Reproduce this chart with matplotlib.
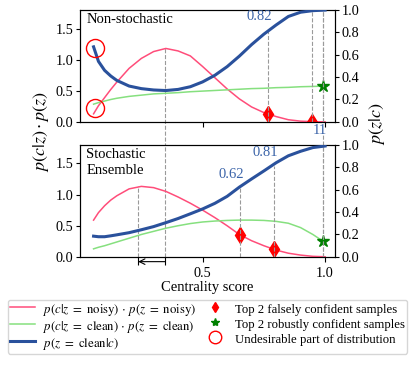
import matplotlib
matplotlib.use('Agg')
import matplotlib.pyplot as plt
from matplotlib.lines import Line2D

plt.rcParams['font.family'] = ['Liberation Serif', 'DejaVu Serif']
plt.rcParams['mathtext.fontset'] = 'stix'
plt.rcParams['font.size'] = 10

# ---------------- data ----------------
centrality = [0.055, 0.075, 0.10, 0.125, 0.15, 0.20, 0.25, 0.30, 0.35, 0.40, 0.45, 0.50,
              0.55, 0.60, 0.65, 0.70, 0.75, 0.80, 0.85, 0.90, 0.95, 1.00]

# Non-stochastic
top_noisy = [0.13, 0.26, 0.39, 0.52, 0.64, 0.86, 1.02, 1.13, 1.18, 1.14, 1.06, 0.89,
             0.71, 0.53, 0.37, 0.24, 0.15, 0.086, 0.035, 0.012, 0.004, 0.001]
top_clean = [0.285, 0.31, 0.335, 0.36, 0.38, 0.41, 0.43, 0.45, 0.46, 0.47, 0.485, 0.495,
             0.505, 0.515, 0.525, 0.535, 0.54, 0.55, 0.555, 0.565, 0.57, 0.575]
top_post = [0.67, 0.54, 0.46, 0.41, 0.37, 0.32, 0.297, 0.285, 0.28, 0.29, 0.314, 0.357,
            0.416, 0.493, 0.587, 0.69, 0.783, 0.865, 0.941, 0.979, 0.993, 0.998]

# Stochastic ensemble
bot_noisy = [0.59, 0.71, 0.82, 0.91, 0.98, 1.09, 1.13, 1.11, 1.05, 0.96, 0.86, 0.75,
             0.63, 0.50, 0.36, 0.26, 0.18, 0.11, 0.06, 0.03, 0.01, 0.003]
bot_clean = [0.13, 0.155, 0.18, 0.21, 0.24, 0.30, 0.36, 0.41, 0.46, 0.50, 0.535, 0.56,
             0.575, 0.585, 0.59, 0.59, 0.585, 0.57, 0.54, 0.47, 0.36, 0.23]
bot_post = [0.185, 0.18, 0.18, 0.188, 0.197, 0.216, 0.242, 0.27, 0.305, 0.342, 0.384, 0.427,
            0.477, 0.539, 0.621, 0.694, 0.765, 0.838, 0.90, 0.94, 0.973, 0.987]

# highlighted samples
top_false_x = [0.767, 0.946]
top_false_y = [0.124, 0.0]
top_false_post = [0.82, 1.0]
top_false_labels = ['0.82', '']
top_robust_x = [0.993]
top_robust_y = [0.575]
top_robust_post = [1.0]

bot_false_x = [0.652, 0.793]
bot_false_y = [0.35, 0.12]
bot_false_post = [0.62, 0.81]
bot_false_labels = ['0.62', '0.81']
bot_robust_x = [0.99]
bot_robust_y = [0.256]
bot_robust_post = [1.0]
bot_robust_labels = ['11']

top_peak_x = [0.346]
top_peak_y = [1.18]
bot_peak_x = [0.237]
bot_peak_y = [1.13]

circle_x = [0.06]
circle_post_y = [0.663]
circle_left_y = [0.23]

# ---------------- style ----------------
PINK = '#ff4d7a'
GREEN = '#86e07f'
BLUE = '#2a519c'
LBLUE = '#3a63a8'
DASH = '#9a9a9a'

fig = plt.figure(figsize=(4.15, 3.65), dpi=100)
ax1 = fig.add_axes([0.193, 0.666, 0.614, 0.307])
ax2 = fig.add_axes([0.193, 0.296, 0.614, 0.308])

panels = [
    (ax1, top_noisy, top_clean, top_post, top_false_x, top_false_y, top_false_post,
     top_false_labels, top_robust_x, top_robust_y, top_robust_post, 'Non-stochastic'),
    (ax2, bot_noisy, bot_clean, bot_post, bot_false_x, bot_false_y, bot_false_post,
     bot_false_labels, bot_robust_x, bot_robust_y, bot_robust_post, 'Stochastic\nEnsemble'),
]

twins = []
for (ax, noisy, clean, post, fx, fy, fp, fl, rx, ry, rp, title) in panels:
    ax.plot(centrality, noisy, color=PINK, lw=1.1, zorder=3)
    ax.plot(centrality, clean, color=GREEN, lw=1.1, zorder=3)
    ax.set_xlim(0.0, 1.04)
    ax.set_ylim(0, 1.8)
    ax.set_yticks([0.0, 0.5, 1.0, 1.5])
    ax.set_xticks([0.5, 1.0])
    ax.tick_params(labelsize=10.3)
    ax.tick_params(axis='y', length=3, pad=1.8)
    axr = ax.twinx()
    axr.plot(centrality, post, color=BLUE, lw=2.2, zorder=3)
    axr.set_ylim(0, 1)
    axr.set_yticks([0.0, 0.2, 0.4, 0.6, 0.8, 1.0])
    axr.tick_params(labelsize=10.3, length=3, pad=1.8)
    axr.vlines(fx, 0, fp, colors=DASH, linestyles='--', lw=0.8, zorder=1)
    axr.vlines(rx, 0, rp, colors=DASH, linestyles='--', lw=0.8, zorder=1)
    ax.plot(fx, fy, ls='none', marker='d', color='red', ms=8.5, zorder=5)
    ax.plot(rx, ry, ls='none', marker='*', color='green', ms=9, zorder=5)
    for xv, pv, lab in zip(fx, fp, fl):
        if lab:
            axr.text(xv + 0.016, pv + 0.06, lab, ha='right', va='bottom',
                     color=LBLUE, fontsize=10.5)
    ax.text(0.025, 0.97, title, transform=ax.transAxes, ha='left', va='top',
            fontsize=10.5, linespacing=1.3)
    twins.append(axr)

ax1r, ax2r = twins
ax1.set_xticklabels([])

# vertical guides at the noisy peaks
ax1.vlines(top_peak_x, -0.4, top_peak_y, colors=DASH, linestyles='--', lw=0.8,
           zorder=1, clip_on=False)
ax2.vlines(top_peak_x, 0, 1.8, colors=DASH, linestyles='--', lw=0.8, zorder=1)
ax2.vlines(bot_peak_x, 0, bot_peak_y, colors=DASH, linestyles='--', lw=0.8, zorder=1)
ax2r.vlines(bot_robust_x, 0, 1.1, colors=DASH, linestyles='--', lw=0.8, zorder=1,
            clip_on=False)
ax1r.vlines(top_robust_x, 0, 1.0, colors=DASH, linestyles='--', lw=0.8, zorder=1)

# labels of robust samples (bottom)
for xv, pv, lab in zip(bot_robust_x, bot_robust_post, bot_robust_labels):
    ax2r.text(xv + 0.018, pv + 0.07, lab, ha='right', va='bottom', color=LBLUE,
              fontsize=10.5, clip_on=False)

# shift arrow below bottom axis
ax2.vlines(bot_peak_x + top_peak_x, -0.13, 0, colors='black', lw=0.8, clip_on=False)
ax2.annotate('', xy=(bot_peak_x[0], -0.075), xytext=(top_peak_x[0], -0.075),
             arrowprops=dict(arrowstyle='->', color='black', lw=0.8,
                             shrinkA=0, shrinkB=0), annotation_clip=False)

# undesirable part circles
ax1r.plot(circle_x, circle_post_y, ls='none', marker='o', ms=13, mfc='none',
          mec='red', mew=1.0, zorder=6, clip_on=False)
ax1.plot(circle_x, circle_left_y, ls='none', marker='o', ms=13, mfc='none',
         mec='red', mew=1.0, zorder=6, clip_on=False)

ax2.set_xlabel('Centrality score', labelpad=1, fontsize=10.5)

fig.text(41 / 415, 1 - 132 / 365, r'$p(c|z)\cdot p(z)$', rotation=90,
         ha='center', va='center', fontsize=13)
fig.text(377 / 415, 1 - 124 / 365, r'$p(z|c)$', rotation=90,
         ha='center', va='center', fontsize=13)

handles = [
    Line2D([], [], color=PINK, lw=1.1),
    Line2D([], [], color=GREEN, lw=1.1),
    Line2D([], [], color=BLUE, lw=2.2),
    Line2D([], [], ls='none', marker='d', color='red', ms=5),
    Line2D([], [], ls='none', marker='*', color='green', ms=6),
    Line2D([], [], ls='none', marker='o', mfc='none', mec='red', ms=9, mew=1.0),
]
labels = [
    r'$p(c|z\ =\ \mathrm{noisy})\,\cdot\, p(z\ =\ \mathrm{noisy})$',
    r'$p(c|z\ =\ \mathrm{clean})\,\cdot\, p(z\ =\ \mathrm{clean})$',
    r'$p(z\ =\ \mathrm{clean}|c)$',
    'Top 2 falsely confident samples',
    'Top 2 robustly confident samples',
    'Undesirable part of distribution',
]
fig.legend(handles, labels, ncol=2, loc='lower center', bbox_to_anchor=(0.5, 0.014),
           fontsize=9.2, handlelength=2.0, handleheight=1.42, columnspacing=0.5,
           handletextpad=0.6, labelspacing=0.0, borderpad=0.15)

fig.savefig('out.png', dpi=100)
